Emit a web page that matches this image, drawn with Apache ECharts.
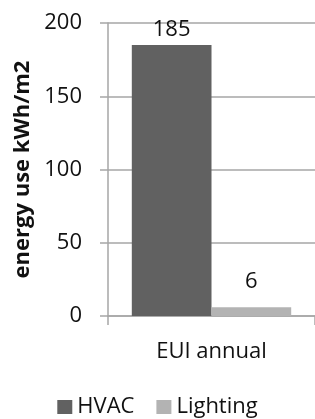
<!DOCTYPE html>
<html lang="en">
<head>
    <meta charset="UTF-8">
    <title>EUI annual</title>
    <script src="https://cdn.jsdelivr.net/npm/echarts@6/dist/echarts.min.js"></script>
    <style>
        *{
            margin:0;
            padding:0;
        }
        #main {
            width: 315px;
            height: 419px;
            background: #fff;
        }
    </style>
</head>
<body>
<div id="main"></div>
<script>
    var categories = ['EUI annual'];
    var hvac = [185];
    var lighting = [6];
    var yTicks = [0, 50, 100, 150, 200];

    var font = '"Open Sans", Lato, sans-serif';
    var axisGray = '#a6a6a6';

    var chart = echarts.init(document.getElementById('main'));

    var option = {
        animation: false,
        textStyle: { fontFamily: font },
        grid: {
            left: 108,
            right: -3,
            top: 23,
            bottom: 103
        },
        legend: {
            top: 391,
            left: 'center',
            itemWidth: 15,
            itemHeight: 14,
            itemGap: 22,
            icon: 'rect',
            textStyle: { fontFamily: font, fontSize: 22, color: '#111' },
            data: ['HVAC', 'Lighting']
        },
        xAxis: {
            type: 'category',
            data: categories,
            axisLine: { lineStyle: { color: axisGray, width: 1.5 } },
            axisTick: { show: true, length: 9, lineStyle: { color: axisGray, width: 1.5 } },
            axisLabel: { fontSize: 22, color: '#111', margin: 25, fontFamily: font }
        },
        yAxis: {
            type: 'value',
            min: yTicks[0],
            max: yTicks[yTicks.length - 1],
            interval: yTicks[1] - yTicks[0],
            name: 'energy use kWh/m2',
            nameLocation: 'middle',
            nameGap: 70,
            nameTextStyle: { fontSize: 22, fontWeight: 'bold', color: '#111', fontFamily: font },
            axisLine: { show: true, lineStyle: { color: axisGray, width: 1.5 } },
            axisTick: { show: true, length: 8, lineStyle: { color: axisGray, width: 1.5 } },
            splitLine: { lineStyle: { color: axisGray, width: 1.5 } },
            axisLabel: { fontSize: 22, color: '#111', margin: 26, fontFamily: font }
        },
        series: [
            {
                name: 'HVAC',
                type: 'bar',
                data: hvac,
                barGap: '0%',
                barCategoryGap: '23%',
                itemStyle: { color: '#616161' },
                label: { show: true, position: 'top', distance: 4, fontSize: 22, color: '#111', fontFamily: font }
            },
            {
                name: 'Lighting',
                type: 'bar',
                data: lighting,
                itemStyle: { color: '#b3b3b3' },
                label: { show: true, position: 'top', distance: 14, fontSize: 22, color: '#111', fontFamily: font }
            }
        ]
    };

    chart.setOption(option);
</script>
</body>
</html>
